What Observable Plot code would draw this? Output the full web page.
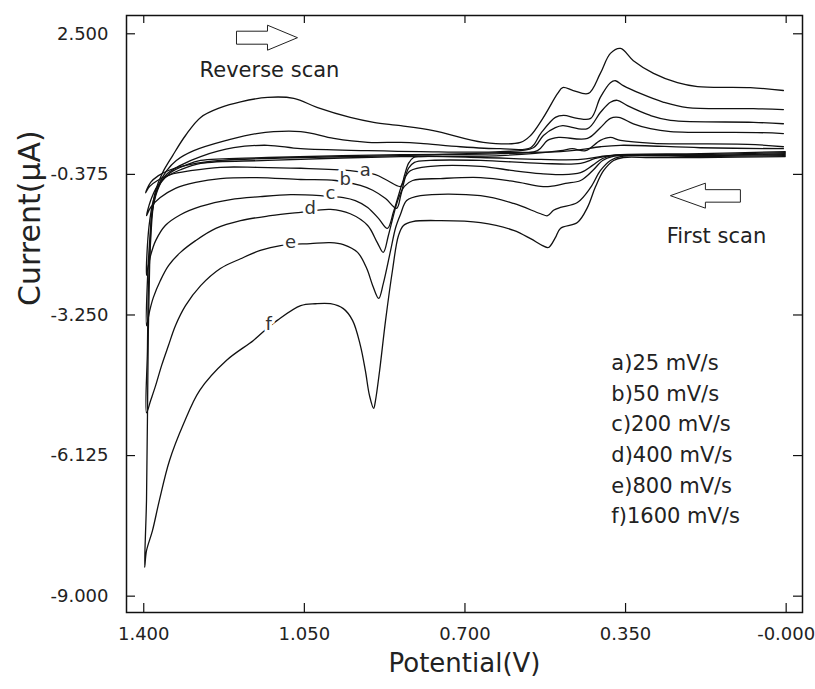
<!DOCTYPE html>
<html><head><meta charset="utf-8">
<script src="https://cdn.jsdelivr.net/npm/d3@7"></script>
<script src="https://cdn.jsdelivr.net/npm/@observablehq/plot@0.6"></script>
<style>body{margin:0;background:#fff}#chart{width:815px;height:689px}</style>
</head><body><div id="chart"></div>
<script>
// ---- data (potential V, current µA), first scan (0 -> 1.4 V) then reverse scan (1.4 -> 0 V)
const curveNames = ["a","b","c","d","e","f"];
const legendLabels = ["a)25 mV/s","b)50 mV/s","c)200 mV/s","d)400 mV/s","e)800 mV/s","f)1600 mV/s"];
const xTickValues = [1.4, 1.05, 0.7, 0.35, 0];
const xTickLabels = ["1.400","1.050","0.700","0.350","-0.000"];
const yTickValues = [2.5, -0.375, -3.25, -6.125, -9];
const yTickLabels = ["2.500","-0.375","-3.250","-6.125","-9.000"];
const labelPotentials = [0.917, 0.961, 0.993, 1.037, 1.080, 1.128];

const potA = [0.002,0.187,0.361,0.405,0.448,0.535,0.666,0.797,0.812,0.823,0.832,0.840,0.869,0.895,0.950,1.058,1.154,1.233,1.298,1.342,1.370,1.387,1.396,
  1.385,1.368,1.342,1.298,1.233,1.058,0.840,0.623,0.492,0.448,0.405,0.361,0.187,0.006];
const curA = [0.09,0.05,0.03,-0.01,-0.07,-0.07,-0.03,-0.01,-0.03,-0.15,-0.40,-0.62,-0.50,-0.38,-0.30,-0.25,-0.23,-0.23,-0.30,-0.38,-0.50,-0.62,-0.75,
  -0.54,-0.40,-0.28,-0.17,-0.09,-0.03,0.01,0.07,0.09,0.13,0.19,0.22,0.17,0.15];

const potB = [0.002,0.187,0.383,0.416,0.448,0.535,0.666,0.775,0.810,0.823,0.832,0.840,0.849,0.873,0.901,0.928,0.982,1.058,1.154,1.233,1.287,1.331,1.364,1.385,1.394,
  1.385,1.372,1.353,1.320,1.276,1.130,0.840,0.623,0.492,0.466,0.437,0.405,0.383,0.361,0.289,0.084,0.006];
const curB = [0.07,0.03,0.01,-0.05,-0.15,-0.15,-0.09,-0.09,-0.13,-0.25,-0.50,-0.81,-1.07,-0.87,-0.70,-0.60,-0.50,-0.48,-0.44,-0.46,-0.54,-0.66,-0.85,-1.05,-1.22,
  -0.91,-0.64,-0.44,-0.28,-0.15,-0.09,-0.01,0.01,0.11,0.15,0.11,0.32,0.38,0.32,0.26,0.24,0.19];

const potC = [0.002,0.187,0.379,0.400,0.422,0.448,0.492,0.535,0.594,0.666,0.775,0.819,0.834,0.845,0.856,0.869,0.888,0.912,0.939,0.965,1.015,1.080,1.146,1.211,1.276,1.320,1.353,1.374,1.385,1.392,1.394,
  1.392,1.387,1.379,1.364,1.342,1.309,1.276,1.130,0.840,0.623,0.542,0.520,0.496,0.433,0.405,0.383,0.365,0.333,0.296,0.252,0.063,0.006];
const curC = [0.05,0.01,0.01,-0.05,-0.19,-0.34,-0.38,-0.36,-0.30,-0.21,-0.21,-0.30,-0.50,-0.81,-1.15,-1.48,-1.28,-1.05,-0.91,-0.85,-0.81,-0.79,-0.83,-0.89,-1.03,-1.20,-1.42,-1.73,-2.03,-2.34,-2.44,
  -1.83,-1.32,-0.91,-0.56,-0.34,-0.19,-0.09,-0.03,0.03,0.05,0.11,0.32,0.38,0.36,0.58,0.77,0.79,0.66,0.56,0.50,0.48,0.46];

const potD = [0.002,0.187,0.379,0.400,0.422,0.448,0.481,0.514,0.535,0.594,0.666,0.753,0.814,0.832,0.845,0.856,0.867,0.878,0.891,0.912,0.950,0.993,1.058,1.124,1.189,1.243,1.287,1.320,1.346,1.364,1.379,1.387,1.394,
  1.392,1.387,1.381,1.370,1.353,1.320,1.276,1.204,1.130,1.058,0.912,0.797,0.623,0.551,0.529,0.503,0.487,0.433,0.405,0.383,0.368,0.346,0.296,0.252,0.071,0.006];
const curD = [0.03,0.01,-0.01,-0.09,-0.30,-0.50,-0.56,-0.62,-0.62,-0.52,-0.44,-0.46,-0.50,-0.62,-0.87,-1.22,-1.63,-1.97,-1.77,-1.42,-1.18,-1.09,-1.15,-1.22,-1.32,-1.48,-1.73,-1.97,-2.24,-2.55,-2.89,-3.16,-3.47,
  -2.55,-1.73,-1.11,-0.70,-0.40,-0.19,-0.01,0.17,0.22,0.15,0.11,0.09,0.09,0.17,0.42,0.58,0.62,0.56,0.89,1.10,1.14,1.03,0.83,0.73,0.69,0.66];

const potE = [0.002,0.187,0.361,0.383,0.405,0.426,0.455,0.492,0.507,0.520,0.535,0.594,0.666,0.797,0.827,0.840,0.851,0.862,0.878,0.888,0.901,0.914,0.934,0.965,0.993,1.037,1.102,1.146,1.189,1.233,1.276,1.309,1.331,1.346,1.361,1.374,1.385,1.394,
  1.392,1.390,1.385,1.379,1.368,1.350,1.329,1.291,1.220,1.154,1.058,0.986,0.912,0.840,0.797,0.710,0.623,0.557,0.535,0.503,0.485,0.455,0.426,0.405,0.383,0.372,0.355,0.318,0.267,0.215,0.071,0.006];
const curE = [0.01,-0.01,-0.01,-0.09,-0.30,-0.64,-0.95,-1.05,-1.11,-1.22,-1.18,-0.97,-0.81,-0.81,-0.91,-1.18,-1.46,-1.93,-2.61,-2.91,-2.65,-2.30,-1.97,-1.81,-1.77,-1.79,-1.83,-1.93,-2.10,-2.30,-2.65,-3.06,-3.47,-3.87,-4.28,-4.69,-5.00,-5.25,
  -3.98,-2.75,-1.73,-1.01,-0.60,-0.30,-0.09,0.11,0.32,0.46,0.50,0.36,0.28,0.28,0.26,0.19,0.15,0.17,0.46,0.79,0.83,0.77,0.77,1.20,1.50,1.54,1.44,1.28,1.10,0.99,0.97,0.95];

const potF = [0.002,0.187,0.296,0.355,0.376,0.398,0.416,0.433,0.455,0.492,0.503,0.518,0.531,0.557,0.594,0.666,0.753,0.814,0.834,0.845,0.858,0.873,0.886,0.895,0.899,0.908,0.917,0.928,0.945,0.965,0.993,1.026,1.058,1.109,1.132,1.161,1.220,1.278,1.313,1.344,1.366,1.381,1.394,1.398,
  1.394,1.392,1.390,1.387,1.383,1.374,1.359,1.337,1.309,1.276,1.233,1.189,1.130,1.073,1.021,0.950,0.899,0.840,0.769,0.660,0.579,0.557,0.529,0.498,0.487,0.464,0.431,0.405,0.383,0.361,0.333,0.289,0.237,0.193,0.078,0.006];
const curF = [-0.01,-0.03,-0.03,-0.03,-0.09,-0.30,-0.64,-1.05,-1.36,-1.48,-1.67,-1.87,-1.83,-1.69,-1.52,-1.36,-1.32,-1.34,-1.42,-1.63,-2.34,-3.36,-4.39,-5.00,-5.16,-4.90,-4.39,-3.87,-3.36,-3.12,-3.02,-3.02,-3.06,-3.36,-3.53,-3.77,-4.18,-4.79,-5.47,-6.23,-7.04,-7.66,-8.07,-8.41,
  -7.04,-5.41,-3.57,-2.14,-1.22,-0.70,-0.34,0.01,0.42,0.79,0.99,1.11,1.20,1.18,0.99,0.79,0.69,0.62,0.52,0.28,0.28,0.42,0.79,1.28,1.40,1.34,1.28,1.69,2.10,2.20,1.95,1.69,1.50,1.42,1.40,1.34];

// annotations
const annotText = ["Reverse scan", "First scan"];
const annotPot = [1.126, 0.152];
const annotCur = [1.75, -1.645];
const arrowPot = [1.1325, 0.176];
const arrowCur = [2.42, -0.81];
const legendPot = 0.381, legendCur = -5.745;

// ---- build tables
const pots = [potA, potB, potC, potD, potE, potF];
const curs = [curA, curB, curC, curD, curE, curF];
const rows = [];
curveNames.forEach((name, k) => pots[k].forEach((v, i) => rows.push({curve: name, V: v, I: curs[k][i]})));

// label positions on the first-scan branch
const labelRows = curveNames.map((name, k) => {
  const P = pots[k], C = curs[k], v = labelPotentials[k];
  let I = C[0];
  for (let i = 0; i < P.length - 1; i++) {
    if (P[i] <= v && v <= P[i + 1]) { I = C[i] + (C[i + 1] - C[i]) * (v - P[i]) / (P[i + 1] - P[i]); break; }
  }
  return {label: name, V: v, I};
});

const rightArrow = {draw(ctx) {
  ctx.moveTo(-30, -6.5); ctx.lineTo(1, -6.5); ctx.lineTo(1, -12.5); ctx.lineTo(31, 0);
  ctx.lineTo(1, 12.5); ctx.lineTo(1, 6.5); ctx.lineTo(-30, 6.5); ctx.closePath();
}};
const leftArrow = {draw(ctx) {
  ctx.moveTo(-35, 0); ctx.lineTo(0, -12.5); ctx.lineTo(0, -6); ctx.lineTo(35, -6);
  ctx.lineTo(35, 6.5); ctx.lineTo(0, 6.5); ctx.lineTo(0, 12.5); ctx.closePath();
}};

const W = 815, H = 689, mL = 126, mR = 13, mT = 15, mB = 77;
const fw = W - mL - mR, fh = H - mT - mB;
const font = "DejaVu Sans";

const chart = Plot.plot({
  width: W, height: H,
  marginLeft: mL, marginRight: mR, marginTop: mT, marginBottom: mB,
  style: {background: "#fff", fontFamily: font, fontSize: "18px", overflow: "visible"},
  x: {domain: [1.4376, -0.0356]},
  y: {domain: [-9.334, 2.874]},
  marks: [
    Plot.line(rows, {x: "V", y: "I", z: "curve", stroke: "#111", strokeWidth: 1.3, curve: "catmull-rom"}),
    Plot.text(labelRows, {x: "V", y: "I", text: "label", dy: -3, fontSize: 18, fill: "#333", stroke: "white", strokeWidth: 6, fontFamily: font}),
    Plot.frame({stroke: "#111", strokeWidth: 1.5}),
    // inward ticks on all four sides
    Plot.tickX(xTickValues, {x: d => d, insetTop: fh - 9, stroke: "#111", strokeWidth: 1.2}),
    Plot.tickX(xTickValues, {x: d => d, insetBottom: fh - 8, stroke: "#111", strokeWidth: 1.2}),
    Plot.tickY(yTickValues, {y: d => d, insetRight: fw - 9, stroke: "#111", strokeWidth: 1.2}),
    Plot.tickY(yTickValues, {y: d => d, insetLeft: fw - 9, stroke: "#111", strokeWidth: 1.2}),
    Plot.axisX(xTickValues, {tickSize: 0, tickPadding: 15, tickFormat: d => xTickLabels[xTickValues.indexOf(d)], label: null, fill: "#222", fontSize: 18}),
    Plot.axisY(yTickValues, {tickSize: 0, tickPadding: 18, tickFormat: d => yTickLabels[yTickValues.indexOf(d)], label: null, fill: "#222", fontSize: 18}),
    Plot.text(["Potential(V)"], {text: d => d, frameAnchor: "bottom", dy: 59, fontSize: 26, fill: "#222", fontFamily: font}),
    Plot.text(["Current(µA)"], {text: d => d, frameAnchor: "left", dx: -96, dy: -8, rotate: -90, fontSize: 30, fill: "#222", fontFamily: font}),
    Plot.text(annotText, {x: (d, i) => annotPot[i], y: (d, i) => annotCur[i], text: d => d, fontSize: 21, fill: "#222", fontFamily: font}),
    Plot.dot([0], {x: () => arrowPot[0], y: () => arrowCur[0], symbol: rightArrow, fill: "white", stroke: "#222", strokeWidth: 1}),
    Plot.dot([1], {x: () => arrowPot[1], y: () => arrowCur[1], symbol: leftArrow, fill: "white", stroke: "#222", strokeWidth: 1}),
    Plot.text([legendLabels.join("\n")], {x: () => legendPot, y: () => legendCur, text: d => d, textAnchor: "start", lineAnchor: "middle", lineHeight: 1.46, fontSize: 21, fill: "#222", fontFamily: font})
  ]
});
document.getElementById("chart").appendChild(chart);
</script></body></html>
